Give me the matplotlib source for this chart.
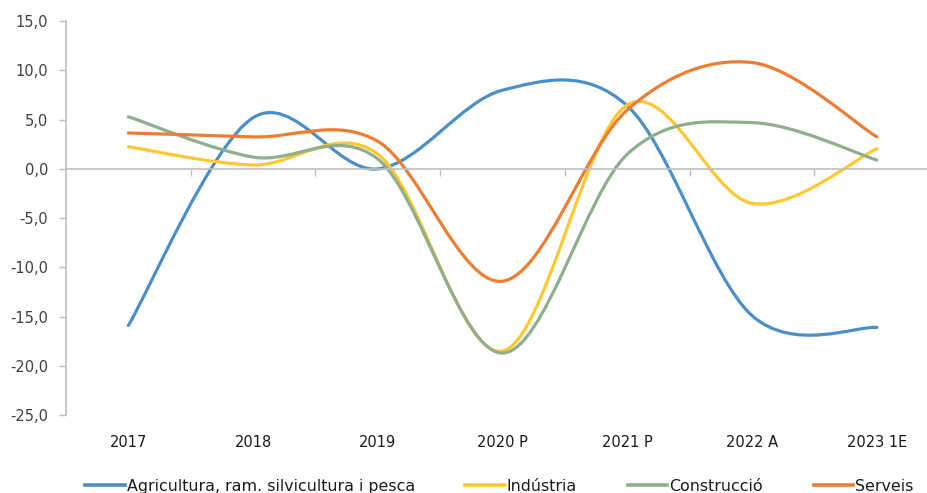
import matplotlib
matplotlib.use("Agg")
import matplotlib.pyplot as plt
from matplotlib.path import Path
from matplotlib.patches import PathPatch
from matplotlib.lines import Line2D
from matplotlib.ticker import FuncFormatter, FixedLocator

years = ["2017", "2018", "2019", "2020 P", "2021 P", "2022 A", "2023 1E"]
agricultura = [-15.9, 5.2, 0.0, 8.0, 6.4, -14.9, -16.1]
industria = [2.25, 0.4, 1.5, -18.5, 6.5, -3.5, 2.05]
construccio = [5.3, 1.2, 1.0, -18.7, 1.5, 4.7, 0.9]
serveis = [3.65, 3.25, 2.8, -11.4, 6.0, 10.8, 3.25]

series = [
    ("Agricultura, ram. silvicultura i pesca", agricultura, "#4a8fc8"),
    ("Indústria", industria, "#ffc830"),
    ("Construcció", construccio, "#8fae8c"),
    ("Serveis", serveis, "#ed7d31"),
]


def smooth_path(xs, ys):
    # excel-style smoothed line: cubic bezier, catmull-rom control points
    n = len(xs)
    pts = list(zip(xs, ys))
    verts = [pts[0]]
    codes = [Path.MOVETO]
    for i in range(n - 1):
        p0 = pts[max(i - 1, 0)]
        p1 = pts[i]
        p2 = pts[i + 1]
        p3 = pts[min(i + 2, n - 1)]
        c1 = (p1[0] + (p2[0] - p0[0]) / 6, p1[1] + (p2[1] - p0[1]) / 6)
        c2 = (p2[0] - (p3[0] - p1[0]) / 6, p2[1] - (p3[1] - p1[1]) / 6)
        verts += [c1, c2, p2]
        codes += [Path.CURVE4] * 3
    return Path(verts, codes)


plt.rcParams["font.family"] = "DejaVu Sans"
fig = plt.figure(figsize=(9.28, 4.93), dpi=100)
ax = fig.add_axes([0.0711, 0.158, 0.941, 0.799])

x = list(range(len(years)))
handles = []
for name, vals, col in series:
    ax.add_patch(PathPatch(smooth_path(x, vals), fill=False, edgecolor=col,
                           lw=2.3, capstyle="round"))
    handles.append(Line2D([], [], color=col, lw=2.6, label=name))

ax.set_xlim(-0.5, len(years) - 0.5)
ax.set_ylim(-25, 15)
ax.set_yticks(range(-25, 16, 5))
ax.yaxis.set_major_formatter(FuncFormatter(lambda v, p: f"{v:.1f}".replace(".", ",")))
ax.tick_params(axis="y", direction="out", length=5, width=1, color="#bfbfbf",
               labelsize=10.5, labelcolor="#404040", pad=8)

for s in ["top", "right"]:
    ax.spines[s].set_visible(False)
ax.spines["left"].set_color("#bfbfbf")
ax.spines["left"].set_linewidth(1.2)
ax.spines["bottom"].set_position(("data", 0))
ax.spines["bottom"].set_color("#bfbfbf")
ax.spines["bottom"].set_linewidth(1.2)
ax.set_zorder(1)

ax.xaxis.set_major_locator(FixedLocator([i + 0.5 for i in range(len(years))]))
ax.tick_params(axis="x", direction="out", length=5, width=1, color="#bfbfbf",
               labelbottom=False)

sec = ax.secondary_xaxis("bottom")
sec.set_xticks(x)
sec.set_xticklabels(years)
sec.spines["bottom"].set_visible(False)
sec.tick_params(length=0, pad=14, labelsize=10.5, labelcolor="#1a1a1a")

fig.legend(handles=handles, loc="center", bbox_to_anchor=(0.538, 0.014), ncol=4,
           frameon=False, fontsize=11.4, handlelength=2.5, handletextpad=0.12,
           columnspacing=3.2, labelcolor="#1a1a1a")

fig.savefig("out.png", dpi=100)
